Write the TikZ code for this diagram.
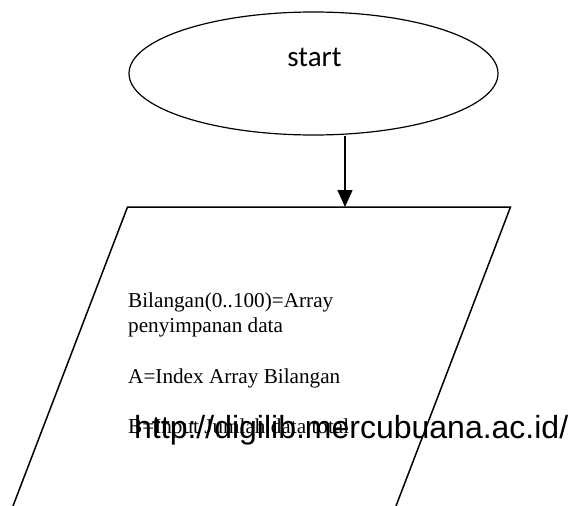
\documentclass[tikz,border=0pt]{standalone}
\usepackage{fontspec}
\setmainfont{Liberation Serif}
\newfontfamily\calibrifont{Carlito}
\newfontfamily\arialfont{Liberation Sans}
\usetikzlibrary{arrows.meta,shapes.geometric}

\tikzset{
  terminal/.style={draw, line width=1.2pt, ellipse, minimum width=369pt, minimum height=123pt, inner sep=0pt},
  flowline/.style={line width=1.5pt},
  flowarrow/.style={line width=1.5pt, -{Triangle[width=15pt,length=17pt]}},
  bodytext/.style={anchor=base west, inner sep=0pt, font=\fontsize{21.2}{25.3}\selectfont},
  marktext/.style={anchor=base west, inner sep=0pt, font=\arialfont\fontsize{32}{38}\selectfont}
}

\begin{document}
\begin{tikzpicture}[x=1pt, y=-1pt]
  \useasboundingbox (0,0) rectangle (571,506);

  % terminal
  \node[terminal] (start) at (313.5,73.5) {};
  \node[anchor=base, inner sep=0pt, font=\calibrifont\fontsize{29}{34}\selectfont] (startlabel) at (314.5,66) {start};

  % input/output parallelogram, running past the lower edge
  \coordinate (pTL) at (127.5,207);
  \coordinate (pTR) at (510.5,207);
  \coordinate (pBL) at (13,506);
  \coordinate (pBR) at (396,506);
  \coordinate (inTop) at (345,207);
  \draw[flowline] (pBL) -- (pTL) -- (pTR) -- (pBR);

  % connector
  \draw[flowarrow] (start.south -| inTop) -- (inTop);

  % contents of the parallelogram
  \node[bodytext] (l1) at (128,307) {Bilangan(0..100)=Array};
  \node[bodytext] (l2) at (128,332.3) {penyimpanan data};
  \node[bodytext] (l3) at (128,383) {A=Index Array Bilangan};
  \node[bodytext] (l4) at (128,433.5) {B=Input Jumlah data total};

  % site address over the text
  \node[marktext] (url) at (134,438) {http://digilib.mercubuana.ac.id/};
\end{tikzpicture}
\end{document}
